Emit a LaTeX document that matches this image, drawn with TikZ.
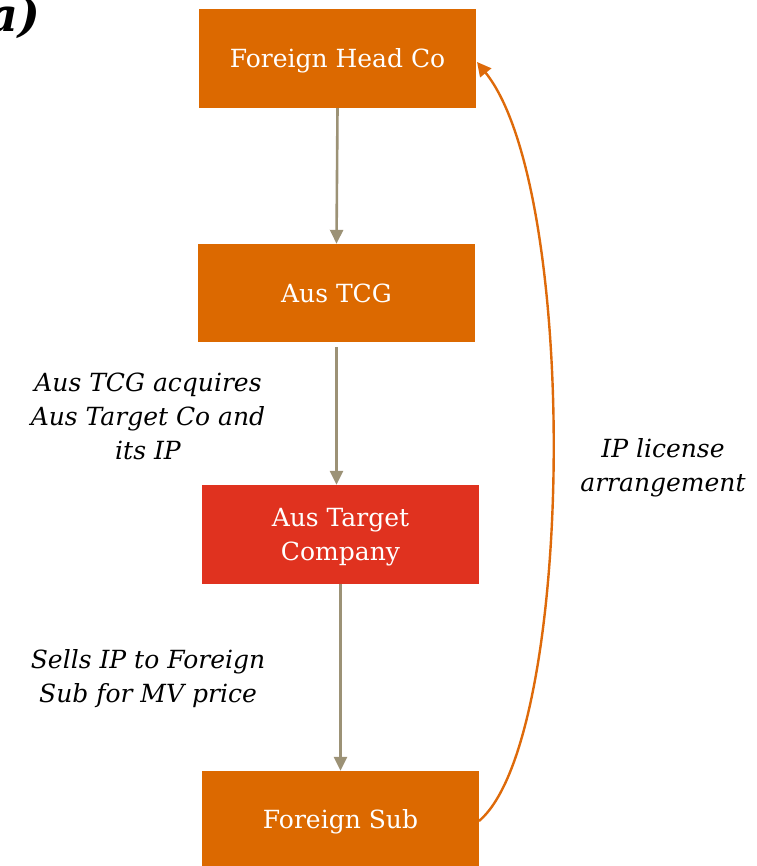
\documentclass[tikz,border=0pt]{standalone}
\usepackage{fontspec}
\setmainfont{DejaVu Serif}
\usetikzlibrary{arrows.meta}
\definecolor{boxorange}{HTML}{DC6900}
\definecolor{boxred}{HTML}{E0321F}
\definecolor{arrowgray}{HTML}{9C9276}
\definecolor{linkorange}{HTML}{DE6A0A}
\begin{document}
\begin{tikzpicture}[x=1pt,y=-1pt,
  entity/.style={fill=boxorange,draw=none,text=white,font=\fontsize{25}{34}\selectfont,align=center,inner sep=0pt,text depth=0pt},
  flow/.style={draw=arrowgray,line width=2.6pt,-{Triangle[width=13pt,length=14pt]}},
  note/.style={font=\fontsize{25}{34}\selectfont\itshape,align=center,text=black}]
\useasboundingbox (0,0) rectangle (756,866);
\node[entity,minimum width=277pt,minimum height=99pt] (fh) at (337.5,58.5) {Foreign Head Co};
\node[entity,minimum width=277pt,minimum height=98pt] (tcg) at (336.5,293) {Aus TCG};
\node[entity,fill=boxred,minimum width=277pt,minimum height=99pt] (tgt) at (340.5,534.5) {Aus Target\\Company};
\node[entity,minimum width=277pt,minimum height=96pt] (fs) at (340.5,819) {Foreign Sub};
\draw[flow] (fh.south) -- (tcg.north);
\draw[flow] ([yshift=-5pt]tcg.south) -- (tgt.north -| tcg.south);
\draw[flow] (tgt.south) -- (fs.north);
\coordinate (cs) at (479,821);
\coordinate (ce) at (477,62);
\draw[draw=linkorange,line width=2.4pt,-{Triangle[width=14pt,length=14pt]}] (cs) .. controls (575,740) and (580,190) .. (ce);
\node[note] (n1) at (148,416) {Aus TCG acquires\\Aus Target Co and\\its IP};
\node[note] (n2) at (148,679) {Sells IP to Foreign\\Sub for MV price};
\node[note] (n3) at (663,468) {IP license\\arrangement};
\node[font=\fontsize{46}{46}\selectfont\bfseries\itshape,anchor=north east,inner sep=0pt] (lbl) at (40,-4) {a)};
\end{tikzpicture}
\end{document}
